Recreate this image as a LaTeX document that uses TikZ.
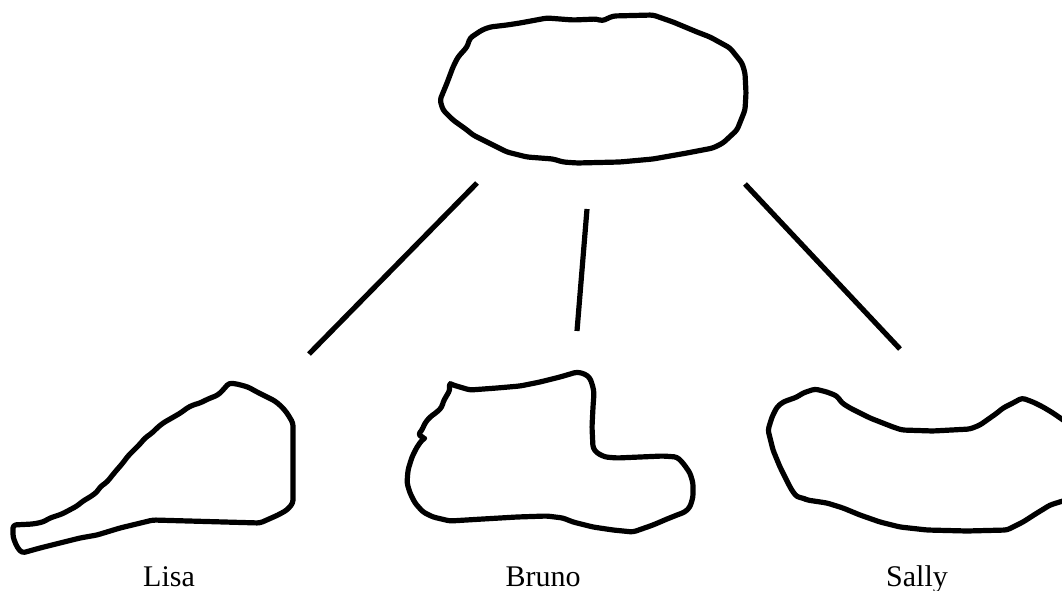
\documentclass[tikz,border=0pt]{standalone}
\usepackage{fontspec}
\setmainfont{Liberation Serif}
\usepackage{tikz}
\usetikzlibrary{positioning}

\begin{document}
\begin{tikzpicture}[
  x=1pt, y=-1pt,
  blob/.style={line width=5.2pt, line join=round, rounded corners=3pt},
  link/.style={line width=5.2pt},
  who/.style={font=\fontsize{30}{36}\selectfont, anchor=base, inner sep=0pt}
]
\useasboundingbox (0,0) rectangle (1062,591);
\clip (0,0) rectangle (1062,591);
% the group on top
\draw[blob] (547,18) -- (573,20) -- (597,19) -- (602,21) -- (613,16) -- (653,15)
  -- (673,22) -- (697,32) -- (710,37) -- (730,48) -- (742,63) -- (745,73)
  -- (746,93) -- (745,110) -- (737,130) -- (723,143) -- (713,148) -- (687,153)
  -- (653,159) -- (620,162) -- (577,163) -- (563,162) -- (553,159) -- (527,157)
  -- (507,152) -- (473,135) -- (467,130) -- (453,120) -- (443,110) -- (440,100)
  -- (447,83) -- (453,67) -- (458,57) -- (467,47) -- (470,38) -- (482,30)
  -- (490,27) -- (507,25) -- (520,23) -- cycle;
% Lisa
\draw[blob] (13,525) -- (33,524) -- (43,522) -- (50,518) -- (62,514) -- (77,506)
  -- (83,501) -- (90,497) -- (97,492) -- (100,487) -- (107,482) -- (115,472)
  -- (122,464) -- (125,460) -- (128,456) -- (133,451) -- (140,444) -- (145,438)
  -- (152,433) -- (157,428) -- (163,423) -- (177,415) -- (182,412) -- (187,408)
  -- (193,405) -- (200,403) -- (208,399) -- (218,395) -- (223,390) -- (229,383)
  -- (237,384) -- (248,387) -- (257,392) -- (263,395) -- (275,401) -- (282,407)
  -- (287,413) -- (293,423) -- (293,503) -- (287,510) -- (278,515) -- (260,523)
  -- (153,520) -- (120,528) -- (97,535) -- (80,538) -- (60,543) -- (40,548)
  -- (22,553) -- (17,547) -- (13,537) -- cycle;
% Bruno
\draw[blob] (449,383) -- (453,385) -- (470,390) -- (497,388) -- (520,386) -- (540,382)
  -- (560,377) -- (577,372) -- (585,374) -- (590,378) -- (593,387) -- (594,393)
  -- (593,407) -- (592,427) -- (593,448) -- (597,453) -- (605,457) -- (617,458)
  -- (640,457) -- (663,456) -- (677,457) -- (683,463) -- (690,473) -- (693,483)
  -- (693,497) -- (690,507) -- (685,512) -- (677,515) -- (667,519) -- (653,525)
  -- (633,532) -- (613,530) -- (593,527) -- (573,522) -- (563,518) -- (547,516)
  -- (517,517) -- (483,519) -- (450,521) -- (433,517) -- (423,512) -- (415,503)
  -- (410,493) -- (407,483) -- (408,470) -- (412,457) -- (417,447) -- (422,440)
  -- (425,438) -- (418,435) -- (422,430) -- (425,423) -- (430,417) -- (437,412)
  -- (442,407) -- (443,402) -- (447,395) -- (450,390) -- cycle;
% Sally
\draw[blob] (768,430) -- (772,417) -- (777,407) -- (783,402) -- (797,397) -- (803,393)
  -- (815,389) -- (827,392) -- (837,396) -- (842,403) -- (850,408) -- (870,418)
  -- (893,427) -- (902,430) -- (933,431) -- (970,429) -- (980,425) -- (997,413)
  -- (1003,408) -- (1013,403) -- (1022,398) -- (1033,402) -- (1043,407)
  -- (1053,413) -- (1066,422) -- (1066,500) -- (1050,505) -- (1042,510)
  -- (1037,513) -- (1023,522) -- (1007,530) -- (967,531) -- (927,530) -- (900,527)
  -- (880,522) -- (860,515) -- (843,508) -- (827,503) -- (807,500) -- (803,498)
  -- (797,497) -- (793,492) -- (790,487) -- (785,477) -- (780,467) -- (773,450)
  -- cycle;
% links
\coordinate (top-l) at (477,183);
\coordinate (top-m) at (587,209);
\coordinate (top-r) at (745,184);
\coordinate (lisa-in) at (309,354);
\coordinate (bruno-in) at (577,331);
\coordinate (sally-in) at (900,349);
\draw[link] (top-l) -- (lisa-in);
\draw[link] (top-m) -- (bruno-in);
\draw[link] (top-r) -- (sally-in);
% names
\node[who] (lisa) at (169,586) {Lisa};
\node[who] (bruno) at (543,586) {Bruno};
\node[who] (sally) at (917,586) {Sally};
\end{tikzpicture}
\end{document}
